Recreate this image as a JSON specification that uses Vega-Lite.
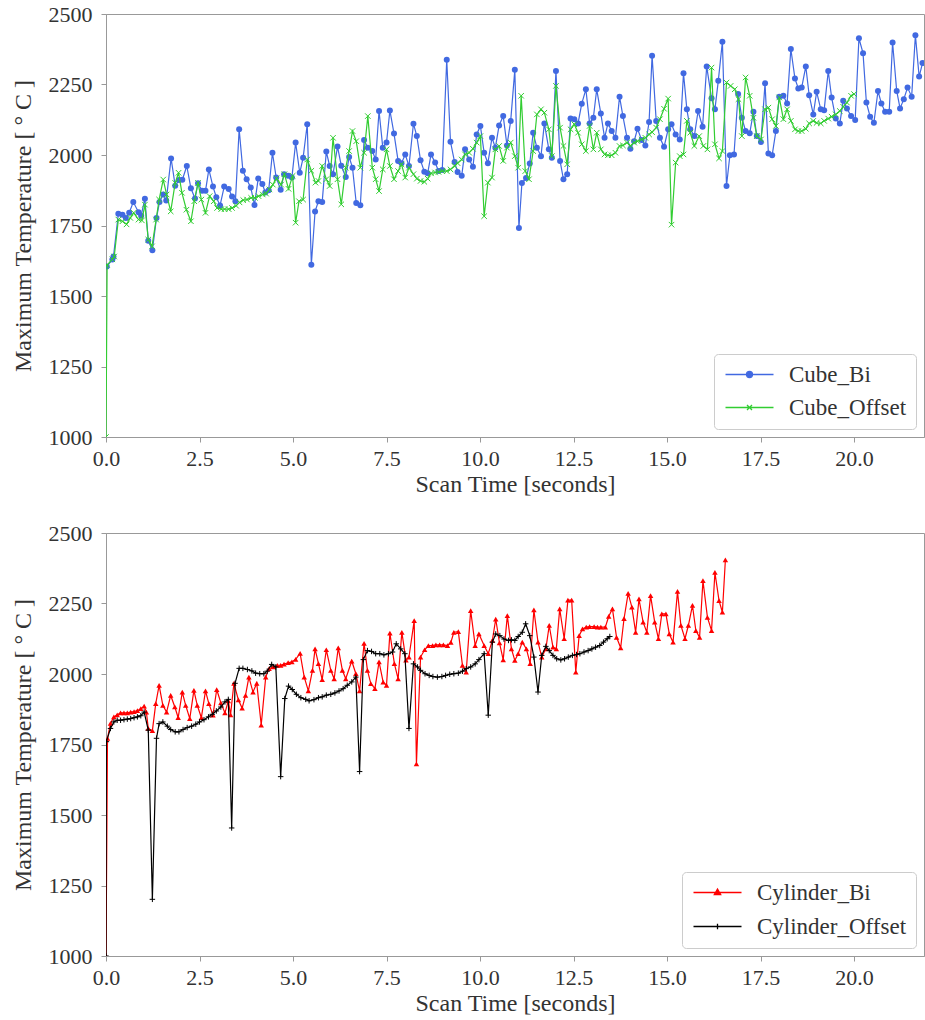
{
"$schema": "https://vega.github.io/schema/vega-lite/v6.json",
"padding": {"left": 10, "top": 2, "right": 0, "bottom": 0},
"spacing": 24,
"config": {
  "font": "Liberation Serif, DejaVu Serif, serif",
  "view": {"stroke": "#999", "strokeWidth": 1},
  "axis": {"labelFont": "Liberation Serif, DejaVu Serif, serif", "titleFont": "Liberation Serif, DejaVu Serif, serif", "labelFontSize": 22, "titleFontSize": 24, "titleFontWeight": "normal", "labelColor": "#333", "titleColor": "#333", "domainColor": "#999", "tickColor": "#999", "grid": false, "tickSize": 5, "labelFlush": false}
},
"datasets": {
"cube_bi": [{"t":0.02,"v":1605},{"t":0.17,"v":1629},{"t":0.2,"v":1640},{"t":0.33,"v":1792},{"t":0.44,"v":1788},{"t":0.53,"v":1777},{"t":0.62,"v":1795},{"t":0.73,"v":1833},{"t":0.87,"v":1797},{"t":0.94,"v":1785},{"t":1.04,"v":1845},{"t":1.13,"v":1696},{"t":1.24,"v":1662},{"t":1.35,"v":1777},{"t":1.43,"v":1833},{"t":1.53,"v":1860},{"t":1.61,"v":1839},{"t":1.74,"v":1988},{"t":1.85,"v":1891},{"t":1.95,"v":1911},{"t":2.04,"v":1912},{"t":2.16,"v":1961},{"t":2.27,"v":1882},{"t":2.38,"v":1846},{"t":2.46,"v":1900},{"t":2.57,"v":1873},{"t":2.66,"v":1873},{"t":2.75,"v":1949},{"t":2.86,"v":1888},{"t":2.95,"v":1850},{"t":3.05,"v":1821},{"t":3.16,"v":1888},{"t":3.28,"v":1879},{"t":3.37,"v":1853},{"t":3.46,"v":1836},{"t":3.56,"v":2091},{"t":3.66,"v":1944},{"t":3.76,"v":1914},{"t":3.87,"v":1885},{"t":3.97,"v":1823},{"t":4.07,"v":1917},{"t":4.18,"v":1897},{"t":4.26,"v":1867},{"t":4.35,"v":1875},{"t":4.45,"v":2008},{"t":4.55,"v":1920},{"t":4.67,"v":1877},{"t":4.76,"v":1932},{"t":4.87,"v":1926},{"t":4.97,"v":1920},{"t":5.07,"v":2044},{"t":5.18,"v":1937},{"t":5.27,"v":1990},{"t":5.38,"v":2109},{"t":5.49,"v":1611},{"t":5.59,"v":1800},{"t":5.68,"v":1836},{"t":5.78,"v":1833},{"t":5.89,"v":2012},{"t":5.98,"v":1961},{"t":6.07,"v":1932},{"t":6.19,"v":2030},{"t":6.29,"v":1962},{"t":6.41,"v":1922},{"t":6.5,"v":1993},{"t":6.59,"v":1955},{"t":6.69,"v":1830},{"t":6.8,"v":1822},{"t":6.9,"v":2053},{"t":7.0,"v":2026},{"t":7.12,"v":2014},{"t":7.21,"v":1984},{"t":7.3,"v":2156},{"t":7.4,"v":2026},{"t":7.5,"v":2044},{"t":7.59,"v":2158},{"t":7.7,"v":2076},{"t":7.81,"v":1979},{"t":7.9,"v":1971},{"t":8.0,"v":2002},{"t":8.1,"v":1961},{"t":8.22,"v":2111},{"t":8.31,"v":2067},{"t":8.41,"v":1981},{"t":8.51,"v":1941},{"t":8.6,"v":1935},{"t":8.69,"v":2002},{"t":8.8,"v":1973},{"t":8.89,"v":1943},{"t":8.99,"v":1947},{"t":9.11,"v":2338},{"t":9.21,"v":2047},{"t":9.32,"v":1975},{"t":9.4,"v":1940},{"t":9.51,"v":1926},{"t":9.6,"v":2020},{"t":9.71,"v":1984},{"t":9.81,"v":1958},{"t":9.91,"v":2073},{"t":10.01,"v":2103},{"t":10.11,"v":2008},{"t":10.21,"v":1971},{"t":10.32,"v":2061},{"t":10.41,"v":2026},{"t":10.51,"v":2105},{"t":10.62,"v":2138},{"t":10.72,"v":2034},{"t":10.82,"v":2121},{"t":10.93,"v":2302},{"t":11.04,"v":1741},{"t":11.12,"v":1901},{"t":11.23,"v":1918},{"t":11.33,"v":1970},{"t":11.42,"v":2079},{"t":11.52,"v":2026},{"t":11.63,"v":1996},{"t":11.72,"v":2112},{"t":11.84,"v":2020},{"t":11.92,"v":1990},{"t":12.03,"v":2298},{"t":12.14,"v":1979},{"t":12.23,"v":1914},{"t":12.33,"v":1932},{"t":12.42,"v":2129},{"t":12.52,"v":2127},{"t":12.62,"v":2112},{"t":12.72,"v":2182},{"t":12.83,"v":2233},{"t":12.93,"v":2112},{"t":13.03,"v":2132},{"t":13.12,"v":2233},{"t":13.23,"v":2147},{"t":13.33,"v":2061},{"t":13.42,"v":2112},{"t":13.52,"v":2085},{"t":13.62,"v":2061},{"t":13.73,"v":2207},{"t":13.82,"v":2138},{"t":13.93,"v":2061},{"t":14.02,"v":2022},{"t":14.12,"v":2049},{"t":14.21,"v":2093},{"t":14.32,"v":2053},{"t":14.42,"v":2034},{"t":14.52,"v":2117},{"t":14.6,"v":2352},{"t":14.71,"v":2121},{"t":14.81,"v":2061},{"t":14.92,"v":2029},{"t":15.03,"v":2091},{"t":15.12,"v":2109},{"t":15.23,"v":2073},{"t":15.34,"v":2055},{"t":15.44,"v":2290},{"t":15.53,"v":2162},{"t":15.62,"v":2091},{"t":15.73,"v":2067},{"t":15.83,"v":2156},{"t":15.95,"v":2100},{"t":16.06,"v":2314},{"t":16.19,"v":2201},{"t":16.28,"v":2162},{"t":16.37,"v":2263},{"t":16.48,"v":2402},{"t":16.59,"v":1890},{"t":16.68,"v":1999},{"t":16.79,"v":2002},{"t":16.9,"v":2216},{"t":17.0,"v":2132},{"t":17.1,"v":2085},{"t":17.21,"v":2077},{"t":17.31,"v":2153},{"t":17.4,"v":2067},{"t":17.51,"v":2046},{"t":17.62,"v":2254},{"t":17.71,"v":2005},{"t":17.81,"v":1999},{"t":17.91,"v":2085},{"t":18.0,"v":2207},{"t":18.11,"v":2210},{"t":18.21,"v":2183},{"t":18.31,"v":2376},{"t":18.42,"v":2271},{"t":18.51,"v":2236},{"t":18.6,"v":2239},{"t":18.71,"v":2314},{"t":18.8,"v":2212},{"t":18.91,"v":2144},{"t":19.0,"v":2224},{"t":19.11,"v":2162},{"t":19.2,"v":2159},{"t":19.31,"v":2298},{"t":19.4,"v":2204},{"t":19.51,"v":2129},{"t":19.62,"v":2112},{"t":19.71,"v":2192},{"t":19.81,"v":2165},{"t":19.92,"v":2138},{"t":20.03,"v":2124},{"t":20.13,"v":2414},{"t":20.24,"v":2361},{"t":20.33,"v":2186},{"t":20.43,"v":2136},{"t":20.53,"v":2114},{"t":20.64,"v":2227},{"t":20.73,"v":2183},{"t":20.83,"v":2153},{"t":20.94,"v":2153},{"t":21.03,"v":2399},{"t":21.14,"v":2227},{"t":21.23,"v":2165},{"t":21.33,"v":2198},{"t":21.43,"v":2239},{"t":21.54,"v":2207},{"t":21.64,"v":2425},{"t":21.74,"v":2278},{"t":21.83,"v":2326}],
"cube_off": [{"t":0,"v":1000},{"t":0.03,"v":1610},{"t":0.17,"v":1630},{"t":0.22,"v":1640},{"t":0.33,"v":1771},{"t":0.44,"v":1765},{"t":0.55,"v":1754},{"t":0.65,"v":1777},{"t":0.74,"v":1795},{"t":0.87,"v":1771},{"t":0.96,"v":1768},{"t":1.04,"v":1824},{"t":1.13,"v":1700},{"t":1.23,"v":1676},{"t":1.34,"v":1771},{"t":1.42,"v":1842},{"t":1.53,"v":1913},{"t":1.62,"v":1860},{"t":1.73,"v":1800},{"t":1.85,"v":1901},{"t":1.94,"v":1937},{"t":2.03,"v":1866},{"t":2.15,"v":1806},{"t":2.27,"v":1765},{"t":2.36,"v":1836},{"t":2.46,"v":1901},{"t":2.55,"v":1842},{"t":2.66,"v":1795},{"t":2.77,"v":1854},{"t":2.88,"v":1836},{"t":2.97,"v":1812},{"t":3.08,"v":1808},{"t":3.17,"v":1808},{"t":3.28,"v":1808},{"t":3.37,"v":1812},{"t":3.48,"v":1820},{"t":3.57,"v":1832},{"t":3.67,"v":1840},{"t":3.77,"v":1842},{"t":3.88,"v":1848},{"t":3.98,"v":1848},{"t":4.08,"v":1854},{"t":4.19,"v":1860},{"t":4.28,"v":1863},{"t":4.37,"v":1878},{"t":4.46,"v":1895},{"t":4.56,"v":1917},{"t":4.68,"v":1895},{"t":4.77,"v":1932},{"t":4.88,"v":1880},{"t":4.99,"v":1926},{"t":5.07,"v":1760},{"t":5.16,"v":1836},{"t":5.27,"v":1842},{"t":5.38,"v":1984},{"t":5.49,"v":1944},{"t":5.6,"v":1902},{"t":5.68,"v":1908},{"t":5.78,"v":1961},{"t":5.89,"v":1914},{"t":5.98,"v":1890},{"t":6.07,"v":2061},{"t":6.19,"v":1914},{"t":6.29,"v":1825},{"t":6.41,"v":1955},{"t":6.5,"v":2014},{"t":6.59,"v":2085},{"t":6.69,"v":2049},{"t":6.8,"v":1955},{"t":6.9,"v":2008},{"t":7.0,"v":2138},{"t":7.12,"v":1955},{"t":7.21,"v":1914},{"t":7.3,"v":1872},{"t":7.4,"v":1949},{"t":7.5,"v":2020},{"t":7.59,"v":1961},{"t":7.7,"v":1914},{"t":7.81,"v":1943},{"t":7.9,"v":1967},{"t":8.0,"v":1920},{"t":8.1,"v":1955},{"t":8.22,"v":1932},{"t":8.31,"v":1916},{"t":8.41,"v":1908},{"t":8.51,"v":1905},{"t":8.6,"v":1916},{"t":8.69,"v":1935},{"t":8.8,"v":1938},{"t":8.89,"v":1940},{"t":8.99,"v":1943},{"t":9.11,"v":1943},{"t":9.21,"v":1949},{"t":9.32,"v":1961},{"t":9.4,"v":1971},{"t":9.51,"v":1984},{"t":9.6,"v":2002},{"t":9.71,"v":2008},{"t":9.81,"v":2022},{"t":9.91,"v":2044},{"t":10.01,"v":2067},{"t":10.11,"v":1783},{"t":10.21,"v":1902},{"t":10.32,"v":1920},{"t":10.41,"v":2020},{"t":10.51,"v":2032},{"t":10.62,"v":1979},{"t":10.72,"v":2026},{"t":10.82,"v":2044},{"t":10.93,"v":1996},{"t":11.02,"v":1955},{"t":11.1,"v":2210},{"t":11.21,"v":1943},{"t":11.31,"v":1914},{"t":11.42,"v":2014},{"t":11.52,"v":2144},{"t":11.63,"v":2162},{"t":11.72,"v":2150},{"t":11.84,"v":2091},{"t":11.92,"v":1996},{"t":12.03,"v":2245},{"t":12.14,"v":2097},{"t":12.23,"v":2032},{"t":12.33,"v":1967},{"t":12.42,"v":2091},{"t":12.52,"v":2109},{"t":12.62,"v":2079},{"t":12.72,"v":2038},{"t":12.83,"v":2014},{"t":12.93,"v":2103},{"t":13.03,"v":2020},{"t":13.12,"v":2079},{"t":13.23,"v":2020},{"t":13.33,"v":2002},{"t":13.42,"v":1999},{"t":13.52,"v":1999},{"t":13.62,"v":2008},{"t":13.73,"v":2032},{"t":13.82,"v":2034},{"t":13.93,"v":2044},{"t":14.02,"v":2032},{"t":14.12,"v":2044},{"t":14.21,"v":2049},{"t":14.32,"v":2055},{"t":14.42,"v":2061},{"t":14.52,"v":2073},{"t":14.6,"v":2081},{"t":14.71,"v":2097},{"t":14.81,"v":2127},{"t":14.92,"v":2164},{"t":15.03,"v":2200},{"t":15.12,"v":1753},{"t":15.23,"v":1973},{"t":15.34,"v":1996},{"t":15.44,"v":2002},{"t":15.53,"v":2121},{"t":15.62,"v":2079},{"t":15.73,"v":2032},{"t":15.86,"v":2067},{"t":15.97,"v":2032},{"t":16.08,"v":2020},{"t":16.19,"v":2310},{"t":16.28,"v":2038},{"t":16.39,"v":1988},{"t":16.48,"v":2014},{"t":16.59,"v":2257},{"t":16.7,"v":2245},{"t":16.81,"v":2233},{"t":16.91,"v":2198},{"t":17.0,"v":2067},{"t":17.1,"v":2275},{"t":17.21,"v":2210},{"t":17.31,"v":2132},{"t":17.4,"v":2067},{"t":17.51,"v":2055},{"t":17.62,"v":2162},{"t":17.71,"v":2168},{"t":17.81,"v":2127},{"t":17.91,"v":2103},{"t":18.0,"v":2204},{"t":18.11,"v":2127},{"t":18.21,"v":2162},{"t":18.31,"v":2121},{"t":18.42,"v":2091},{"t":18.51,"v":2085},{"t":18.6,"v":2085},{"t":18.71,"v":2093},{"t":18.8,"v":2112},{"t":18.91,"v":2121},{"t":19.0,"v":2114},{"t":19.11,"v":2112},{"t":19.2,"v":2121},{"t":19.31,"v":2129},{"t":19.4,"v":2136},{"t":19.51,"v":2144},{"t":19.62,"v":2156},{"t":19.71,"v":2171},{"t":19.81,"v":2186},{"t":19.92,"v":2210},{"t":20.0,"v":2216}],
"cyl_bi": [{"t":0,"v":1000},{"t":0.04,"v":1772},{"t":0.12,"v":1825},{"t":0.21,"v":1848},{"t":0.3,"v":1855},{"t":0.39,"v":1862},{"t":0.48,"v":1862},{"t":0.57,"v":1862},{"t":0.66,"v":1865},{"t":0.75,"v":1867},{"t":0.84,"v":1870},{"t":0.93,"v":1877},{"t":1.02,"v":1886},{"t":1.08,"v":1865},{"t":1.13,"v":1807},{"t":1.24,"v":1799},{"t":1.33,"v":1895},{"t":1.42,"v":1960},{"t":1.52,"v":1889},{"t":1.62,"v":1865},{"t":1.73,"v":1924},{"t":1.84,"v":1883},{"t":1.93,"v":1845},{"t":2.04,"v":1936},{"t":2.13,"v":1889},{"t":2.24,"v":1842},{"t":2.35,"v":1942},{"t":2.44,"v":1889},{"t":2.55,"v":1845},{"t":2.66,"v":1940},{"t":2.75,"v":1895},{"t":2.86,"v":1854},{"t":2.96,"v":1945},{"t":3.07,"v":1898},{"t":3.18,"v":1862},{"t":3.27,"v":1905},{"t":3.33,"v":1855},{"t":3.42,"v":1967},{"t":3.54,"v":1908},{"t":3.64,"v":1879},{"t":3.73,"v":1924},{"t":3.82,"v":1989},{"t":3.93,"v":1936},{"t":4.03,"v":1967},{"t":4.15,"v":1819},{"t":4.27,"v":1989},{"t":4.36,"v":2019},{"t":4.47,"v":2025},{"t":4.58,"v":2031},{"t":4.67,"v":2031},{"t":4.76,"v":2035},{"t":4.87,"v":2040},{"t":4.97,"v":2043},{"t":5.07,"v":2052},{"t":5.19,"v":2073},{"t":5.3,"v":1989},{"t":5.41,"v":1940},{"t":5.52,"v":2013},{"t":5.59,"v":2089},{"t":5.68,"v":2037},{"t":5.78,"v":1980},{"t":5.89,"v":2086},{"t":6.01,"v":2013},{"t":6.1,"v":1983},{"t":6.21,"v":2093},{"t":6.32,"v":2013},{"t":6.41,"v":1983},{"t":6.57,"v":2046},{"t":6.68,"v":2001},{"t":6.78,"v":1940},{"t":6.9,"v":2109},{"t":6.99,"v":2013},{"t":7.08,"v":1966},{"t":7.19,"v":1948},{"t":7.3,"v":2043},{"t":7.41,"v":1971},{"t":7.5,"v":1960},{"t":7.59,"v":2145},{"t":7.71,"v":2037},{"t":7.81,"v":1983},{"t":7.91,"v":2148},{"t":8.02,"v":2049},{"t":8.1,"v":2060},{"t":8.24,"v":2189},{"t":8.3,"v":1681},{"t":8.41,"v":2060},{"t":8.52,"v":2086},{"t":8.62,"v":2101},{"t":8.73,"v":2101},{"t":8.82,"v":2103},{"t":8.92,"v":2103},{"t":9.02,"v":2103},{"t":9.13,"v":2101},{"t":9.22,"v":2112},{"t":9.3,"v":2148},{"t":9.42,"v":2150},{"t":9.53,"v":2031},{"t":9.63,"v":2007},{"t":9.75,"v":2225},{"t":9.87,"v":2101},{"t":9.97,"v":2142},{"t":10.11,"v":2101},{"t":10.22,"v":2072},{"t":10.33,"v":2119},{"t":10.42,"v":2195},{"t":10.52,"v":2110},{"t":10.62,"v":2050},{"t":10.73,"v":2207},{"t":10.84,"v":2089},{"t":10.93,"v":2048},{"t":11.02,"v":2072},{"t":11.13,"v":2113},{"t":11.24,"v":2089},{"t":11.34,"v":2037},{"t":11.44,"v":2227},{"t":11.55,"v":2113},{"t":11.65,"v":2060},{"t":11.76,"v":2089},{"t":11.85,"v":2172},{"t":11.95,"v":2095},{"t":12.04,"v":2089},{"t":12.13,"v":2231},{"t":12.25,"v":2125},{"t":12.35,"v":2262},{"t":12.45,"v":2262},{"t":12.56,"v":2007},{"t":12.65,"v":2136},{"t":12.74,"v":2160},{"t":12.84,"v":2166},{"t":12.93,"v":2168},{"t":13.05,"v":2168},{"t":13.14,"v":2166},{"t":13.23,"v":2166},{"t":13.35,"v":2166},{"t":13.44,"v":2204},{"t":13.54,"v":2231},{"t":13.65,"v":2130},{"t":13.76,"v":2093},{"t":13.85,"v":2196},{"t":13.96,"v":2286},{"t":14.06,"v":2237},{"t":14.16,"v":2148},{"t":14.25,"v":2266},{"t":14.36,"v":2184},{"t":14.46,"v":2148},{"t":14.56,"v":2278},{"t":14.67,"v":2184},{"t":14.77,"v":2125},{"t":14.86,"v":2213},{"t":14.97,"v":2213},{"t":15.06,"v":2142},{"t":15.16,"v":2113},{"t":15.28,"v":2293},{"t":15.37,"v":2172},{"t":15.48,"v":2125},{"t":15.57,"v":2172},{"t":15.68,"v":2243},{"t":15.77,"v":2154},{"t":15.87,"v":2130},{"t":15.96,"v":2331},{"t":16.08,"v":2201},{"t":16.19,"v":2154},{"t":16.28,"v":2360},{"t":16.39,"v":2260},{"t":16.48,"v":2219},{"t":16.56,"v":2405}],
"cyl_off": [{"t":0,"v":1000},{"t":0.01,"v":1760},{"t":0.12,"v":1807},{"t":0.21,"v":1830},{"t":0.3,"v":1836},{"t":0.39,"v":1836},{"t":0.48,"v":1838},{"t":0.57,"v":1840},{"t":0.66,"v":1842},{"t":0.75,"v":1845},{"t":0.84,"v":1848},{"t":0.93,"v":1852},{"t":1.02,"v":1865},{"t":1.13,"v":1801},{"t":1.24,"v":1201},{"t":1.35,"v":1772},{"t":1.42,"v":1824},{"t":1.52,"v":1830},{"t":1.64,"v":1815},{"t":1.73,"v":1803},{"t":1.85,"v":1795},{"t":1.95,"v":1795},{"t":2.06,"v":1803},{"t":2.17,"v":1810},{"t":2.29,"v":1815},{"t":2.4,"v":1822},{"t":2.5,"v":1830},{"t":2.62,"v":1838},{"t":2.74,"v":1848},{"t":2.84,"v":1857},{"t":2.95,"v":1869},{"t":3.07,"v":1883},{"t":3.18,"v":1901},{"t":3.27,"v":1910},{"t":3.36,"v":1454},{"t":3.45,"v":1967},{"t":3.56,"v":2020},{"t":3.66,"v":2020},{"t":3.78,"v":2016},{"t":3.9,"v":2011},{"t":4.0,"v":2003},{"t":4.11,"v":2001},{"t":4.22,"v":2001},{"t":4.31,"v":2010},{"t":4.43,"v":2034},{"t":4.54,"v":2025},{"t":4.67,"v":1636},{"t":4.78,"v":1913},{"t":4.88,"v":1957},{"t":4.98,"v":1945},{"t":5.09,"v":1928},{"t":5.21,"v":1916},{"t":5.34,"v":1910},{"t":5.43,"v":1905},{"t":5.56,"v":1909},{"t":5.68,"v":1916},{"t":5.78,"v":1919},{"t":5.89,"v":1925},{"t":6.01,"v":1928},{"t":6.12,"v":1933},{"t":6.23,"v":1940},{"t":6.34,"v":1948},{"t":6.45,"v":1960},{"t":6.57,"v":1972},{"t":6.68,"v":1989},{"t":6.78,"v":1654},{"t":6.88,"v":2051},{"t":6.99,"v":2083},{"t":7.1,"v":2080},{"t":7.21,"v":2072},{"t":7.32,"v":2072},{"t":7.43,"v":2068},{"t":7.55,"v":2072},{"t":7.66,"v":2078},{"t":7.76,"v":2107},{"t":7.88,"v":2089},{"t":7.99,"v":2072},{"t":8.1,"v":1807},{"t":8.22,"v":2036},{"t":8.33,"v":2025},{"t":8.41,"v":2013},{"t":8.53,"v":2001},{"t":8.64,"v":1995},{"t":8.74,"v":1991},{"t":8.86,"v":1989},{"t":8.98,"v":1991},{"t":9.08,"v":1995},{"t":9.19,"v":1999},{"t":9.3,"v":2001},{"t":9.42,"v":2003},{"t":9.53,"v":2010},{"t":9.63,"v":2019},{"t":9.75,"v":2025},{"t":9.87,"v":2036},{"t":9.97,"v":2051},{"t":10.11,"v":2072},{"t":10.22,"v":1854},{"t":10.33,"v":2113},{"t":10.42,"v":2142},{"t":10.53,"v":2136},{"t":10.64,"v":2124},{"t":10.76,"v":2119},{"t":10.84,"v":2121},{"t":10.93,"v":2119},{"t":11.02,"v":2133},{"t":11.13,"v":2148},{"t":11.22,"v":2178},{"t":11.33,"v":2136},{"t":11.44,"v":2060},{"t":11.55,"v":1936},{"t":11.65,"v":2066},{"t":11.76,"v":2098},{"t":11.85,"v":2083},{"t":11.95,"v":2066},{"t":12.05,"v":2054},{"t":12.16,"v":2050},{"t":12.26,"v":2054},{"t":12.36,"v":2060},{"t":12.47,"v":2066},{"t":12.58,"v":2069},{"t":12.67,"v":2072},{"t":12.78,"v":2078},{"t":12.89,"v":2083},{"t":12.99,"v":2089},{"t":13.09,"v":2095},{"t":13.2,"v":2101},{"t":13.3,"v":2113},{"t":13.4,"v":2125},{"t":13.47,"v":2133}]
},
"vconcat": [
{
  "width": 818, "height": 423,
  "encoding": {
    "x": {"field": "t", "type": "quantitative", "scale": {"domain": [0, 21.87], "nice": false, "zero": false}, "axis": {"values": [0,2.5,5,7.5,10,12.5,15,17.5,20], "format": ".1f", "title": "Scan Time [seconds]", "labelPadding": 6, "titlePadding": 3}},
    "y": {"field": "v", "type": "quantitative", "scale": {"domain": [1000, 2500], "nice": false, "zero": false}, "axis": {"values": [1000,1250,1500,1750,2000,2250,2500], "format": "d", "title": "Maximum Temperature [ ° C ]", "labelPadding": 9, "titlePadding": 13}}
  },
  "layer": [
    {"data": {"name": "cube_bi"}, "mark": {"type": "line", "strokeWidth": 1.2, "clip": true},
     "encoding": {"color": {"datum": "Cube_Bi", "type": "nominal", "scale": {"domain": ["Cube_Bi", "Cube_Offset"], "range": ["#4169e1", "#32cd32"]},
       "legend": {"title": null, "orient": "bottom-right", "offset": 8, "strokeColor": "#ccc", "fillColor": "white", "cornerRadius": 4, "padding": 9, "labelFont": "Liberation Serif, DejaVu Serif, serif", "labelFontSize": 23, "labelColor": "#333", "symbolSize": 400, "symbolStrokeWidth": 1.3, "symbolOffset": 15, "labelOffset": 28, "rowPadding": 9,
         "encode": {"symbols": {"update": {
           "shape": {"signal": "datum.value == 'Cube_Bi' ? 'M-2.4,0L2.4,0M0.3,0A0.3,0.3,0,1,1,-0.3,0A0.3,0.3,0,1,1,0.3,0' : 'M-2.4,0L2.4,0M-0.25,-0.25L0.25,0.25M-0.25,0.25L0.25,-0.25'"},
           "fill": {"signal": "datum.value == 'Cube_Bi' ? '#4169e1' : 'transparent'"},
           "stroke": {"signal": "datum.value == 'Cube_Bi' ? '#4169e1' : '#32cd32'"},
           "strokeWidth": {"value": 1.3}, "opacity": {"value": 1}}}}}}}},
    {"data": {"name": "cube_bi"}, "mark": {"type": "point", "shape": "circle", "filled": true, "size": 36, "opacity": 1, "clip": true},
     "encoding": {"color": {"datum": "Cube_Bi", "type": "nominal", "legend": null}}},
    {"data": {"name": "cube_off"}, "mark": {"type": "line", "strokeWidth": 1.2, "clip": true},
     "encoding": {"color": {"datum": "Cube_Offset", "type": "nominal"}}},
    {"data": {"name": "cube_off"}, "mark": {"type": "point", "shape": "M-1,-1L1,1M-1,1L1,-1", "filled": false, "size": 30, "strokeWidth": 1, "opacity": 1, "clip": true},
     "encoding": {"color": {"datum": "Cube_Offset", "type": "nominal", "legend": null}}}
  ]
},
{
  "width": 818, "height": 423,
  "encoding": {
    "x": {"field": "t", "type": "quantitative", "scale": {"domain": [0, 21.87], "nice": false, "zero": false}, "axis": {"values": [0,2.5,5,7.5,10,12.5,15,17.5,20], "format": ".1f", "title": "Scan Time [seconds]", "labelPadding": 6, "titlePadding": 3}},
    "y": {"field": "v", "type": "quantitative", "scale": {"domain": [1000, 2500], "nice": false, "zero": false}, "axis": {"values": [1000,1250,1500,1750,2000,2250,2500], "format": "d", "title": "Maximum Temperature [ ° C ]", "labelPadding": 9, "titlePadding": 13}}
  },
  "layer": [
    {"data": {"name": "cyl_bi"}, "mark": {"type": "line", "strokeWidth": 1.2, "clip": true},
     "encoding": {"color": {"datum": "Cylinder_Bi", "type": "nominal", "scale": {"domain": ["Cylinder_Bi", "Cylinder_Offset"], "range": ["#ff0000", "#000000"]},
       "legend": {"title": null, "orient": "bottom-right", "offset": 8, "strokeColor": "#ccc", "fillColor": "white", "cornerRadius": 4, "padding": 9, "labelFont": "Liberation Serif, DejaVu Serif, serif", "labelFontSize": 23, "labelColor": "#333", "symbolSize": 400, "symbolStrokeWidth": 1.3, "symbolOffset": 15, "labelOffset": 28, "rowPadding": 10,
         "encode": {"symbols": {"update": {
           "shape": {"signal": "datum.value == 'Cylinder_Bi' ? 'M-2.4,0L2.4,0M0,-0.35L0.32,0.22L-0.32,0.22Z' : 'M-2.4,0L2.4,0M0,-0.28L0,0.28'"},
           "fill": {"signal": "datum.value == 'Cylinder_Bi' ? '#ff0000' : 'transparent'"},
           "stroke": {"signal": "datum.value == 'Cylinder_Bi' ? '#ff0000' : '#000000'"},
           "strokeWidth": {"value": 1.3}, "opacity": {"value": 1}}}}}}}},
    {"data": {"name": "cyl_bi"}, "mark": {"type": "point", "shape": "triangle-up", "filled": true, "size": 30, "opacity": 1, "clip": true},
     "encoding": {"color": {"datum": "Cylinder_Bi", "type": "nominal", "legend": null}}},
    {"data": {"name": "cyl_off"}, "mark": {"type": "line", "strokeWidth": 1.2, "clip": true},
     "encoding": {"color": {"datum": "Cylinder_Offset", "type": "nominal"}}},
    {"data": {"name": "cyl_off"}, "mark": {"type": "point", "shape": "M-1,0L1,0M0,-1L0,1", "filled": false, "size": 30, "strokeWidth": 1, "opacity": 1, "clip": true},
     "encoding": {"color": {"datum": "Cylinder_Offset", "type": "nominal", "legend": null}}}
  ]
}
],
"resolve": {"scale": {"color": "independent"}, "legend": {"color": "independent"}}
}
